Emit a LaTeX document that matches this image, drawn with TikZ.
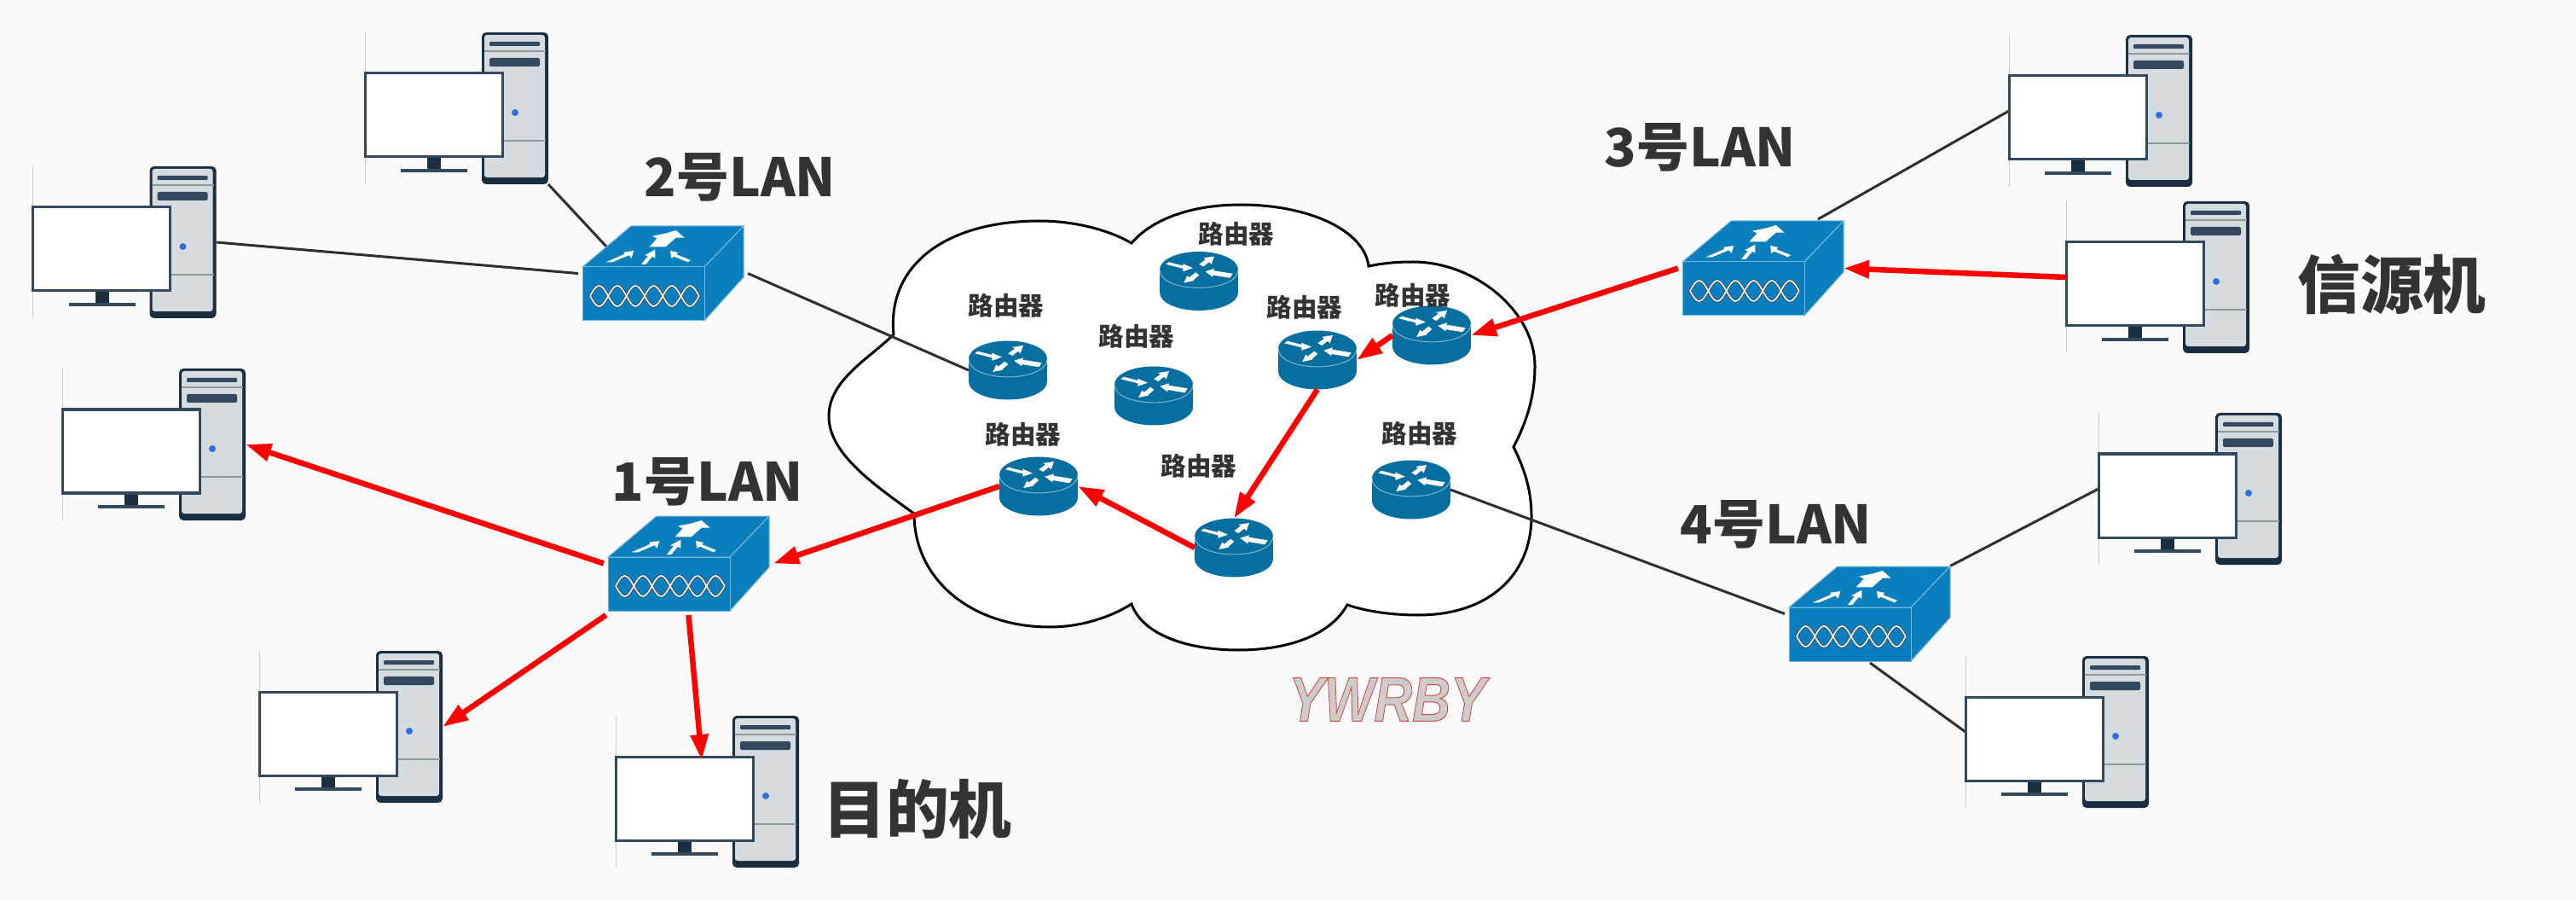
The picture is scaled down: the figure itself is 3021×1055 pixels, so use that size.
\documentclass[tikz,border=0pt]{standalone}
\usepackage{fontspec}
\usepackage{xcolor}
\usetikzlibrary{arrows.meta}
\newfontfamily\cjk{Noto Sans CJK SC}
\newfontfamily\markfont{Liberation Sans}
\definecolor{bgc}{HTML}{FAFAFA}
\definecolor{txt}{HTML}{333333}
\definecolor{wire}{HTML}{2F2F2F}
\definecolor{swblue}{HTML}{0B7FBE}
\definecolor{swedge}{HTML}{73B8DC}
\definecolor{rtblue}{HTML}{076FA0}
\definecolor{rtedge}{HTML}{7FB4CE}
\definecolor{pcdark}{HTML}{1B2E40}
\definecolor{pcslot}{HTML}{34495E}
\definecolor{pcbody}{HTML}{D6DBE0}
\definecolor{pcline}{HTML}{8B9A9A}
\definecolor{pcled}{HTML}{2F6FDB}

\begin{document}
\begin{tikzpicture}[
  x=0.01cm, y=-0.01cm,
  wirel/.style={draw=wire, line width=0.03cm},
  redarr/.style={-{Triangle[length=0.3cm,width=0.2cm]}, draw=red, line width=0.065cm},
  pcbox/.style={minimum width=2.15cm, minimum height=1.78cm, inner sep=0pt, outer sep=0pt},
  swbox/.style={minimum width=1.89cm, minimum height=1.11cm, inner sep=0pt, outer sep=0.05cm},
  rtbox/.style={minimum width=0.92cm, minimum height=0.69cm, inner sep=0pt, outer sep=0pt},
  rtlabel/.style={font=\cjk\bfseries\fontsize{8.4pt}{10pt}\selectfont, text=txt, inner sep=0pt},
  lanlabel/.style={font=\cjk\bfseries\fontsize{17.6pt}{20pt}\selectfont, text=txt, inner sep=0pt},
  hostlabel/.style={font=\cjk\bfseries\fontsize{21pt}{24pt}\selectfont, text=txt, inner sep=0pt},
  pcunit/.pic={
    \begin{scope}[shift={(-107.5,-41)}]
    \draw[gray!40, line width=0.01cm] (0,-48) -- (0,130);
    \fill[pcdark, rounded corners=0.05cm] (137,-48) rectangle (215,130);
    \fill[pcbody, rounded corners=0.03cm] (140,-45) rectangle (211,122);
    \fill[pcslot, rounded corners=0.01cm] (146,-37) rectangle (205,-32);
    \fill[pcslot, rounded corners=0.02cm] (146,-18) rectangle (205,-8);
    \draw[pcline, line width=0.012cm] (140,-26) -- (212,-26);
    \draw[pcline, line width=0.012cm] (140,79) -- (212,79);
    \fill[pcled] (176,46) circle (4);
    \fill[pcdark] (73,98) rectangle (89,112);
    \fill[pcslot] (42,112) rectangle (120,116);
    \draw[pcslot, fill=white, line width=0.03cm] (0,0) rectangle (161,98);
    \end{scope}
  },
  swunit/.pic={
    \begin{scope}[shift={(-94.5,-7.5)}]
    \draw[swedge, fill=swblue, line width=0.01cm] (0,0) -- (57,-48) -- (189,-48) -- (143,0) -- cycle;
    \draw[swedge, fill=swblue, line width=0.01cm] (143,0) -- (189,-48) -- (189,12) -- (143,63) -- cycle;
    \draw[swedge, fill=swblue, line width=0.01cm] (0,0) rectangle (143,63);
    \fill[white] (78.7,-23.7) -- (87.7,-33.7) -- (82,-36.3) -- (98.7,-39.7) -- (109.7,-43) -- (119.7,-34.3) -- (109.7,-34.3) -- (97.7,-23.7) -- cycle;
    \fill[white] (27.7,-5.7) -- (49,-15) -- (48.7,-17.3) -- (60.3,-19) -- (57.7,-10.3) -- (54.3,-13.7) -- (35.3,-5.7) -- cycle;
    \fill[white] (69,-3) -- (77,-13) -- (73,-13.7) -- (85.3,-20.3) -- (85.3,-10.3) -- (82,-12.3) -- (74.3,-3) -- cycle;
    \fill[white] (103,-19) -- (112,-17) -- (110.3,-14.7) -- (127,-8) -- (123.7,-5.7) -- (107.7,-12.3) -- (104.3,-10.3) -- cycle;
    \draw[gray!50!black, line width=0.03cm] plot[domain=0:6,samples=61] ({9+21.3*\x},{34+12*sin(180*\x)});
    \draw[gray!50!black, line width=0.03cm] plot[domain=0:6,samples=61] ({9+21.3*\x},{34-12*sin(180*\x)});
    \draw[white, line width=0.016cm] plot[domain=0:6,samples=61] ({9+21.3*\x},{34+12*sin(180*\x)});
    \draw[white, line width=0.016cm] plot[domain=0:6,samples=61] ({9+21.3*\x},{34-12*sin(180*\x)});
    \end{scope}
  },
  rtunit/.pic={
    \fill[rtblue] (-46,-13.5) rectangle (46,13.5);
    \fill[rtblue] (0,-13.5) ellipse [x radius=46, y radius=21];
    \fill[rtblue] (0,13.5) ellipse [x radius=46, y radius=21];
    \draw[rtedge, line width=0.01cm] (-46,-13.5) .. controls (-46,15) and (46,15) .. (46,-13.5);
    \fill[white] (-38.7,-19.7) -- (-35.3,-22.3) -- (-18.7,-18) -- (-18.7,-20.3) -- (-7,-15.3) -- (-18.7,-11.3) -- (-18.7,-14.7) -- cycle;
    \fill[white] (0.3,-19.7) -- (8,-25.3) -- (5.3,-27) -- (18,-29) -- (14.7,-19.7) -- (12,-22.3) -- (5.3,-17) -- cycle;
    \fill[white] (7.3,-11.3) -- (18,-14.7) -- (17.3,-12.3) -- (39.7,-8.7) -- (36.3,-3.7) -- (16.3,-7) -- (16.3,-4.7) -- cycle;
    \fill[white] (-17.7,2) -- (-13.7,-6.3) -- (-11.3,-4.3) -- (-3.7,-10.3) -- (0.3,-7) -- (-7,-0.7) -- (-4.7,-0.7) -- cycle;
  },
]

\fill[bgc] (0,0) rectangle (3021,1055);

% cloud
\draw[black, fill=white, line width=0.03cm] (1048,392)
  .. controls (1040,310) and (1110,259) .. (1219,259)
  .. controls (1265,259) and (1305,272) .. (1327,285)
  .. controls (1350,258) and (1395,240) .. (1455,240)
  .. controls (1535,240) and (1600,270) .. (1605,312)
  .. controls (1625,308) and (1640,307) .. (1657,307)
  .. controls (1730,307) and (1800,365) .. (1800,429)
  .. controls (1800,465) and (1790,495) .. (1775,524)
  .. controls (1788,550) and (1796,575) .. (1796,605)
  .. controls (1796,675) and (1745,721) .. (1663,721)
  .. controls (1630,721) and (1600,716) .. (1580,709)
  .. controls (1560,745) and (1510,762) .. (1452,762)
  .. controls (1395,762) and (1340,745) .. (1327,708)
  .. controls (1300,725) and (1265,735) .. (1231,735)
  .. controls (1140,735) and (1072,680) .. (1072,602)
  .. controls (1020,565) and (972,530) .. (972,488)
  .. controls (972,445) and (1020,420) .. (1048,392) -- cycle;

% hosts
\node[pcbox] (pcA) at (535.5,127) {};
\node[pcbox] (pcB) at (146,284) {};
\node[pcbox] (pcC) at (180.5,521) {};
\node[pcbox] (pcD) at (411.5,852) {};
\node[pcbox] (pcE) at (829.5,928) {};
\node[pcbox] (pcF) at (2463.5,130) {};
\node[pcbox] (pcG) at (2530.5,325) {};
\node[pcbox] (pcH) at (2568.5,573) {};
\node[pcbox] (pcI) at (2412.5,858) {};

% switches
\node[swbox] (swOne) at (807.5,660.5) {};
\node[swbox] (swTwo) at (777.5,320.5) {};
\node[swbox] (swThree) at (2067.5,314.5) {};
\node[swbox] (swFour) at (2192.5,719.5) {};

% routers
\node[rtbox] (rtA) at (1182,434) {};
\node[rtbox] (rtB) at (1406,329.5) {};
\node[rtbox] (rtC) at (1353,464) {};
\node[rtbox] (rtD) at (1545,422) {};
\node[rtbox] (rtE) at (1679,393) {};
\node[rtbox] (rtF) at (1218,570) {};
\node[rtbox] (rtG) at (1447,642) {};
\node[rtbox] (rtH) at (1655,574) {};

\draw[wirel] (pcA.south east) -- ([shift={(-65.5,-30.5)}]swTwo.center);
\draw[wirel] (pcB.east) -- (swTwo.west);
\draw[wirel] (swTwo.east) -- (rtA.west);
\draw[wirel] ([shift={(64.5,-57.5)}]swThree.center) -- (pcF.west);
\draw[wirel] (rtH.east) -- (swFour.west);
\draw[wirel] ([shift={(94.5,-56)}]swFour.center) -- (pcH.west);
\draw[wirel] ([shift={(0.5,57.5)}]swFour.center) -- (pcI.west);

\pic at (pcA) {pcunit};
\pic at (pcB) {pcunit};
\pic at (pcC) {pcunit};
\pic at (pcD) {pcunit};
\pic at (pcE) {pcunit};
\pic at (pcF) {pcunit};
\pic at (pcG) {pcunit};
\pic at (pcH) {pcunit};
\pic at (pcI) {pcunit};

\pic at (swOne) {swunit};
\pic at (swTwo) {swunit};
\pic at (swThree) {swunit};
\pic at (swFour) {swunit};

\pic at (rtA) {rtunit};
\pic at (rtB) {rtunit};
\pic at (rtC) {rtunit};
\pic at (rtD) {rtunit};
\pic at (rtE) {rtunit};
\pic at (rtF) {rtunit};
\pic at (rtG) {rtunit};
\pic at (rtH) {rtunit};

\node[rtlabel] (lbA) at (1180,358) {路由器};
\node[rtlabel] (lbB) at (1450,274) {路由器};
\node[rtlabel] (lbC) at (1333,394) {路由器};
\node[rtlabel] (lbD) at (1530,360) {路由器};
\node[rtlabel] (lbE) at (1657,346) {路由器};
\node[rtlabel] (lbF) at (1200,509) {路由器};
\node[rtlabel] (lbG) at (1406,546) {路由器};
\node[rtlabel] (lbH) at (1665,508) {路由器};

\node[lanlabel] (lanOne) at (830,565) {1号LAN};
\node[lanlabel] (lanTwo) at (868,208) {2号LAN};
\node[lanlabel] (lanThree) at (1994,173) {3号LAN};
\node[lanlabel] (lanFour) at (2083,615) {4号LAN};
\node[hostlabel] (srcHost) at (2805,333) {信源机};
\node[hostlabel] (dstHost) at (1076,948) {目的机};

\node[font=\markfont\bfseries\itshape\fontsize{21pt}{24pt}\selectfont, text=gray!40, xscale=0.84, inner sep=0pt] (markText) at (1627,820) {\special{pdf:code 2 Tr 0.3 w 0.85 0.3 0.3 RG}YWRBY\special{pdf:code 0 Tr 0 0 0 RG}};

\draw[redarr] (pcG.west) -- ([shift={(-5,0)}]swThree.east);
\draw[redarr] (swThree.west) -- (rtE.east);
\draw[redarr] (rtE.west) -- (rtD.east);
\draw[redarr] (rtD.south) -- (rtG.north);
\draw[redarr] (rtG.west) -- (rtF.east);
\draw[redarr] (rtF.west) -- (swOne.east);
\draw[redarr] (swOne.west) -- (pcC.east);
\draw[redarr] (swOne.212.3) -- (pcD.east);
\draw[redarr] (swOne.south) -- ([shift={(-6.5,-37)}]pcE.center);

\end{tikzpicture}
\end{document}
